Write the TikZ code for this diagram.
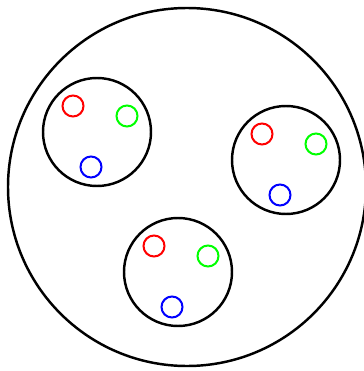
\documentclass[tikz,border=0pt]{standalone}
\usepackage{tikz}
\definecolor{redc}{RGB}{255,0,0}
\definecolor{greenc}{RGB}{0,255,0}
\definecolor{bluec}{RGB}{0,0,255}
\newlength{\ulen}\setlength{\ulen}{0.02cm}
\tikzset{
  outer/.style={draw=black,line width=1.4pt,circle,inner sep=0pt,minimum size=#1},
  dot/.style={draw=#1,line width=1.15pt,circle,inner sep=0pt,minimum size=21\ulen},
}
\begin{document}
\begin{tikzpicture}[x=0.02cm,y=-0.02cm]
\useasboundingbox (0,0) rectangle (364,371);
\node[outer=358\ulen] (world) at (187,187) {};
\foreach \name/\cx/\cy in {a/97/132,b/286/160,c/178/272} {
  \node[outer=108\ulen] (\name) at (\cx,\cy) {};
  \node[dot=redc] (\name r) at ([shift={(-24,-26)}]\name.center) {};
  \node[dot=greenc] (\name g) at ([shift={(30,-16)}]\name.center) {};
  \node[dot=bluec] (\name b) at ([shift={(-6,35)}]\name.center) {};
}
\end{tikzpicture}
\end{document}
